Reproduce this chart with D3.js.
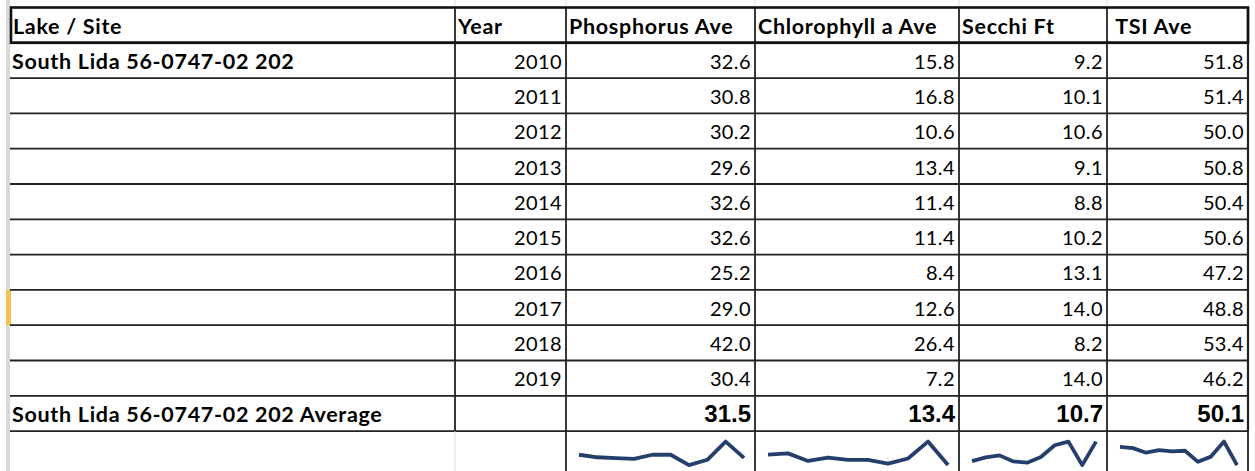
<!DOCTYPE html>
<html>
<head>
<meta charset="utf-8">
<script src="https://cdn.jsdelivr.net/npm/d3@7"></script>
<style>
  body { margin: 0; background: #fff; }
  svg { display: block; }
  text { white-space: pre; }
</style>
</head>
<body>
<div id="chart"></div>
<script>
// table data
const site = 'South Lida 56-0747-02 202'
const headers = ['Lake / Site', 'Year', 'Phosphorus Ave', 'Chlorophyll a Ave', 'Secchi Ft', ' TSI Ave']
const years = [2010, 2011, 2012, 2013, 2014, 2015, 2016, 2017, 2018, 2019]
const phosphorus = [32.6, 30.8, 30.2, 29.6, 32.6, 32.6, 25.2, 29.0, 42.0, 30.4]
const chlorophyll = [15.8, 16.8, 10.6, 13.4, 11.4, 11.4, 8.4, 12.6, 26.4, 7.2]
const secchi = [9.2, 10.1, 10.6, 9.1, 8.8, 10.2, 13.1, 14.0, 8.2, 14.0]
const tsi = [51.8, 51.4, 50.0, 50.8, 50.4, 50.6, 47.2, 48.8, 53.4, 46.2]

const series = [phosphorus, chlorophyll, secchi, tsi]

const width = 1255
const height = 471

// column edges (layout only)
const colEdges = [10, 455, 566, 755, 959, 1107, 1248]
const tableTop = 7.5
const rowH = 35.3

// row index -> y of top edge
const y = d3.scaleLinear().domain([0, 1]).range([tableTop, tableTop + rowH])

const fmt = d3.format('.1f')
const lineColor = '#222'
const sparkColor = '#253e6b'

const boldText = sel => sel
    .style('font-family', 'Lato, sans-serif')
    .style('font-weight', 'bold')
    .style('font-size', '21.5px')
    .style('letter-spacing', '0.7px')
const numText = sel => sel
    .style('font-family', 'Lato, sans-serif')
    .style('font-size', '20px')
    .style('letter-spacing', '0.4px')

const svg = d3.select('#chart').append('svg')
    .attr('width', width)
    .attr('height', height)

// excel row header strip on the left
svg.append('rect')
    .attr('x', 6).attr('y', 0)
    .attr('width', 4).attr('height', height)
    .attr('fill', '#d6d8da')
// selected row marker (2017)
svg.append('rect')
    .attr('x', 6).attr('y', y(1 + years.indexOf(2017)))
    .attr('width', 5).attr('height', rowH)
    .attr('fill', '#f4c24f')

// faint sheet gridlines above the table
svg.append('g').selectAll('line')
    .data(colEdges.slice(1, -1))
    .enter().append('line')
    .attr('x1', d => d).attr('x2', d => d)
    .attr('y1', 0).attr('y2', tableTop)
    .attr('stroke', '#dcdedf')
    .attr('stroke-width', 1)

const nRows = 1 + years.length + 1  // header + years + average
const sparkTop = y(nRows)

// horizontal lines
svg.append('g').selectAll('line')
    .data(d3.range(1, nRows + 1))
    .enter().append('line')
    .attr('x1', colEdges[0]).attr('x2', colEdges[colEdges.length - 1])
    .attr('y1', d => y(d)).attr('y2', d => y(d))
    .attr('stroke', lineColor)
    .attr('stroke-width', d => d === 1 ? 2.6 : 1.8)

// vertical lines in table body
svg.append('g').selectAll('line')
    .data(colEdges.slice(1))
    .enter().append('line')
    .attr('x1', d => d).attr('x2', d => d)
    .attr('y1', tableTop).attr('y2', sparkTop)
    .attr('stroke', lineColor)
    .attr('stroke-width', (d, i) => i === colEdges.length - 2 ? 2.2 : 1.8)

// vertical lines in sparkline row (first one is only a sheet gridline)
svg.append('g').selectAll('line')
    .data(colEdges.slice(1))
    .enter().append('line')
    .attr('x1', d => d).attr('x2', d => d)
    .attr('y1', sparkTop).attr('y2', height)
    .attr('stroke', (d, i) => i === 0 ? '#d9dbdc' : lineColor)
    .attr('stroke-width', (d, i) => i === 0 ? 1 : 1.8)

// header box, thick border
svg.append('rect')
    .attr('x', colEdges[0] + 1).attr('y', tableTop)
    .attr('width', colEdges[colEdges.length - 1] - colEdges[0] - 1)
    .attr('height', rowH)
    .attr('fill', 'none')
    .attr('stroke', '#111')
    .attr('stroke-width', 2.6)

// header text
svg.append('g').selectAll('text')
    .data(headers)
    .enter().append('text')
    .attr('x', (d, i) => colEdges[i] + 3)
    .attr('y', y(1) - 9)
    .call(boldText)
    .text(d => d)

// site label
svg.append('text')
    .attr('x', colEdges[0] + 2)
    .attr('y', y(2) - 9)
    .call(boldText)
    .text(site)

// year rows
svg.append('g').selectAll('text')
    .data(years)
    .enter().append('text')
    .attr('x', colEdges[2] - 4)
    .attr('y', (d, i) => y(i + 2) - 9.5)
    .attr('text-anchor', 'end')
    .call(numText)
    .text(d => d)

series.forEach((vals, c) => {
    svg.append('g').selectAll('text')
        .data(vals)
        .enter().append('text')
        .attr('x', colEdges[c + 3] - 4)
        .attr('y', (d, i) => y(i + 2) - 9.5)
        .attr('text-anchor', 'end')
        .call(numText)
        .text(d => fmt(d))
})

// average row
const avgRow = nRows - 1
svg.append('text')
    .attr('x', colEdges[0] + 2)
    .attr('y', y(avgRow + 1) - 9)
    .call(boldText)
    .text(site + ' Average')

svg.append('g').selectAll('text')
    .data(series.map(s => d3.mean(s)))
    .enter().append('text')
    .attr('x', (d, i) => colEdges[i + 3] - 4)
    .attr('y', y(avgRow + 1) - 9)
    .attr('text-anchor', 'end')
    .style('font-family', '"Liberation Sans", Arial, sans-serif')
    .style('font-weight', 'bold')
    .style('font-size', '24px')
    .text(d => fmt(d))

// sparklines
series.forEach((vals, c) => {
    const x0 = colEdges[c + 2], x1 = colEdges[c + 3]
    const sx = d3.scaleLinear().domain([0, vals.length - 1]).range([x0 + 13, x1 - 11])
    const sy = d3.scaleLinear().domain(d3.extent(vals)).range([sparkTop + 34, sparkTop + 10.5])
    svg.append('path')
        .datum(vals)
        .attr('fill', 'none')
        .attr('stroke', sparkColor)
        .attr('stroke-width', 3.8)
        .attr('stroke-linejoin', 'round')
        .attr('stroke-linecap', 'butt')
        .attr('d', d3.line().x((d, i) => sx(i)).y(d => sy(d)))
})
</script>
</body>
</html>
